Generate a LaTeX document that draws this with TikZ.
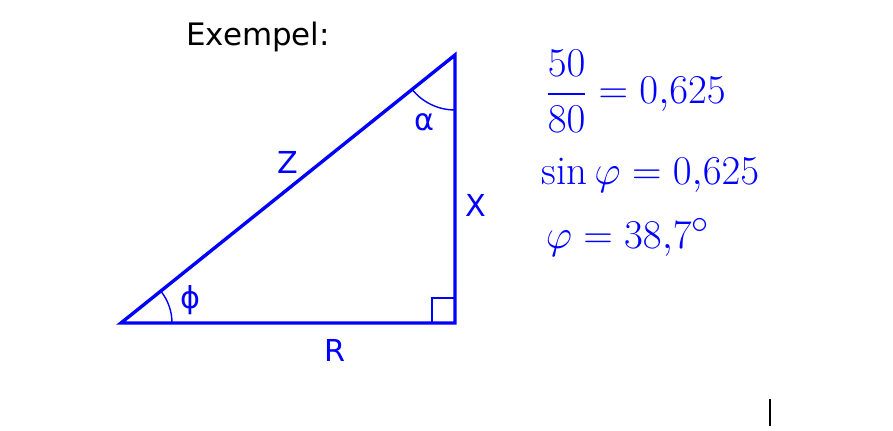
\documentclass[tikz,border=0pt]{standalone}
\usepackage{amsmath}
\usepackage{fontspec}
\newfontfamily\labelfont{DejaVu Sans}
\begin{document}
\begin{tikzpicture}[
    side/.style={blue, line width=2.4pt, line join=miter},
    anglearc/.style={blue, line width=1pt},
    lbl/.style={blue, font=\labelfont\fontsize{21.5}{25}\selectfont},
    eq/.style={blue, anchor=west, scale=1.17, font=\Huge}
  ]
                \useasboundingbox (0,0) rectangle (22.325,10.775);
                % Triangle
                \coordinate (A) at (3.025,2.7);
                \coordinate (B) at (11.375,2.7);
                \coordinate (C) at (11.375,9.4);
                \draw[side] (A) -- (B) -- (C) -- cycle;
                % Angles
                \draw[anglearc] (A) ++(0:1.275) arc[start angle=0, end angle=38.74, radius=1.275];
                \draw[anglearc] (C) ++(270:1.375) arc[start angle=270, end angle=218.74, radius=1.375];
                \draw[anglearc] (B) ++(-0.58,0) -- ++(0,0.62) -- ++(0.58,0);
                % Labels
                \node (title) at (6.45,9.85) {\labelfont\fontsize{22}{26}\selectfont Exempel:};
                \node[lbl] (z) at (7.2,6.725) {Z};
                \node[lbl] (x) at (11.9,5.65) {X};
                \node[lbl] (r) at (8.375,2.025) {R};
                \node[lbl] (phi) at (4.75,3.275) {ϕ};
                \node[lbl] (alpha) at (10.6,7.725) {α};
                % Calculation
                \node[eq] (frac) at (13.5,8.5) {$\dfrac{50}{80} = 0{,}625$};
                \node[eq] (sin) at (13.4,6.4) {$\sin\varphi = 0{,}625$};
                \node[eq] (res) at (13.5,4.85) {$\varphi = 38{,}7^\circ$};
                % Cursor
                \draw[line width=1pt] (19.25,0.8) -- (19.25,0.125);
            \end{tikzpicture}
\end{document}
